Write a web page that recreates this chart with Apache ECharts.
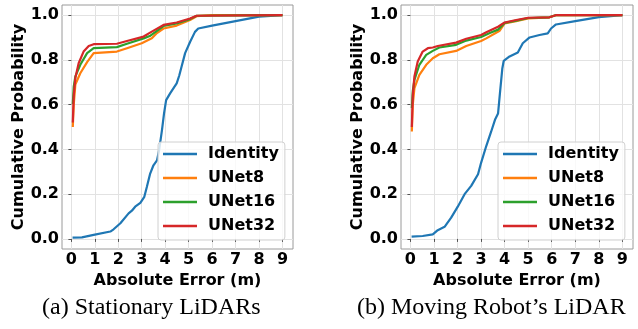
<!DOCTYPE html>
<html>
<head>
<meta charset="utf-8">
<script src="https://cdn.jsdelivr.net/npm/echarts@6/dist/echarts.min.js"></script>
<style>
  html, body { margin: 0; padding: 0; background: #fff; }
  #chart { width: 638px; height: 329px; }
</style>
</head>
<body>
<div id="chart"></div>
<script>
// series names and tick labels
var seriesNames = ['Identity', 'UNet8', 'UNet16', 'UNet32'];
var xTicks = [0, 1, 2, 3, 4, 5, 6, 7, 8, 9];
var yTicks = [0, 0.2, 0.4, 0.6, 0.8, 1.0];

// (a) stationary lidars, [error, cdf]
var statIdentity = [[0.05,0.006],[0.45,0.007],[0.95,0.018],[1.66,0.033],[1.8,0.043],[2.09,0.07],[2.44,0.114],[2.58,0.126],[2.72,0.144],[2.94,0.161],[3.11,0.188],[3.22,0.233],[3.36,0.292],[3.5,0.329],[3.65,0.351],[3.74,0.396],[3.86,0.484],[3.95,0.56],[4.04,0.62],[4.21,0.65],[4.49,0.695],[4.6,0.73],[4.7,0.77],[4.85,0.83],[5.06,0.88],[5.27,0.925],[5.41,0.94],[6.0,0.953],[7.0,0.973],[8.0,0.993],[9.0,1.0]];
var statUNet8 = [[0.06,0.50],[0.1,0.6],[0.17,0.69],[0.38,0.74],[0.67,0.79],[0.95,0.83],[1.94,0.837],[2.37,0.852],[3.0,0.874],[3.43,0.896],[3.65,0.92],[3.93,0.94],[4.49,0.953],[5.06,0.978],[5.34,0.995],[6.0,1.0],[9.0,1.0]];
var statUNet16 = [[0.06,0.603],[0.1,0.68],[0.17,0.726],[0.38,0.778],[0.67,0.83],[0.95,0.852],[1.94,0.857],[2.37,0.872],[3.08,0.896],[3.37,0.908],[3.93,0.951],[4.49,0.963],[5.06,0.982],[5.34,0.997],[9.0,1.0]];
var statUNet32 = [[0.06,0.52],[0.1,0.64],[0.17,0.72],[0.31,0.785],[0.52,0.837],[0.74,0.862],[0.95,0.87],[1.94,0.872],[2.37,0.884],[3.08,0.904],[3.43,0.926],[3.93,0.956],[4.49,0.967],[5.06,0.985],[5.34,0.997],[9.0,1.0]];

// (b) moving robot's lidar
var movIdentity = [[0.05,0.01],[0.52,0.013],[0.95,0.02],[1.16,0.039],[1.45,0.054],[1.73,0.095],[2.01,0.144],[2.3,0.2],[2.58,0.237],[2.87,0.289],[3.0,0.34],[3.22,0.415],[3.43,0.48],[3.6,0.535],[3.72,0.56],[3.8,0.65],[3.9,0.76],[3.96,0.795],[4.21,0.815],[4.56,0.833],[4.77,0.874],[5.06,0.9],[5.48,0.911],[5.83,0.918],[5.97,0.94],[6.18,0.958],[7.0,0.973],[8.0,0.991],[9.0,1.0]];
var movUNet8 = [[0.06,0.48],[0.1,0.6],[0.17,0.674],[0.38,0.733],[0.67,0.778],[0.95,0.807],[1.23,0.825],[1.94,0.84],[2.37,0.862],[3.0,0.884],[3.22,0.896],[3.79,0.93],[4.0,0.963],[4.49,0.973],[5.0,0.985],[5.9,0.99],[6.2,1.0],[9.0,1.0]];
var movUNet16 = [[0.06,0.585],[0.1,0.66],[0.17,0.71],[0.38,0.778],[0.67,0.822],[0.95,0.84],[1.23,0.855],[1.94,0.867],[2.37,0.886],[3.0,0.902],[3.37,0.92],[3.72,0.935],[4.0,0.965],[4.49,0.975],[5.0,0.987],[5.9,0.99],[6.2,1.0],[9.0,1.0]];
var movUNet32 = [[0.06,0.50],[0.1,0.64],[0.17,0.726],[0.31,0.793],[0.52,0.837],[0.74,0.852],[0.95,0.855],[1.16,0.862],[1.94,0.877],[2.37,0.894],[3.0,0.911],[3.22,0.923],[3.72,0.948],[4.0,0.967],[4.49,0.978],[5.0,0.988],[5.9,0.99],[6.2,1.0],[9.0,1.0]];

var colors = ['#1f77b4', '#ff7f0e', '#2ca02c', '#d62728'];
var panels = [
  [statIdentity, statUNet8, statUNet16, statUNet32],
  [movIdentity, movUNet8, movUNet16, movUNet32]
];

var bold = { fontFamily: 'DejaVu Sans', fontWeight: 'bold', fontSize: 16, color: '#000' };

function xAx(i) {
  return {
    type: 'value', gridIndex: i, min: -0.4, max: 9.45,
    name: 'Absolute Error (m)', nameLocation: 'middle', nameGap: 13,
    nameTextStyle: bold,
    axisLine: { show: false },
    axisTick: { show: true, length: 3, customValues: xTicks, lineStyle: { color: '#555' } },
    axisLabel: { customValues: xTicks, margin: 3, fontFamily: 'DejaVu Sans', fontWeight: 'bold', fontSize: 16, color: '#000' },
    splitLine: { show: true, lineStyle: { color: '#e2e2e2', width: 1 } }
  };
}
function yAx(i) {
  return {
    type: 'value', gridIndex: i, min: -0.045, max: 1.045,
    name: 'Cumulative Probability', nameLocation: 'middle', nameGap: 29, nameRotate: 90,
    nameTextStyle: bold,
    axisLine: { show: false },
    axisTick: { show: true, length: 3, customValues: yTicks, lineStyle: { color: '#555' } },
    axisLabel: { customValues: yTicks, margin: 3, fontFamily: 'DejaVu Sans', fontWeight: 'bold', fontSize: 16, color: '#000',
      formatter: function (v) { return v.toFixed(1); } },
    splitLine: { show: true, lineStyle: { color: '#e2e2e2', width: 1 } }
  };
}

var series = [];
panels.forEach(function (p, gi) {
  p.forEach(function (d, si) {
    series.push({
      type: 'line', name: seriesNames[si], xAxisIndex: gi, yAxisIndex: gi,
      data: d, showSymbol: false, symbol: 'none', animation: false,
      lineStyle: { width: 2.2, color: colors[si] }, itemStyle: { color: colors[si] }
    });
  });
});

function legend(left) {
  return {
    orient: 'vertical', left: left, top: 142, data: seriesNames,
    icon: 'rect', itemWidth: 34, itemHeight: 2.5, itemGap: 8, padding: [4, 6, 6, 5],
    backgroundColor: 'rgba(255,255,255,0.8)', borderColor: '#d0d0d0', borderWidth: 1, borderRadius: 3,
    textStyle: { fontFamily: 'DejaVu Sans', fontWeight: 'bold', fontSize: 16, color: '#000', lineHeight: 16, padding: [0, 0, 0, 6] }
  };
}

var myChart = echarts.init(document.getElementById('chart'));
var option = {
  animation: false,
  color: colors,
  grid: [
    { left: 62, top: 5, width: 231, height: 244, show: true, borderColor: '#9a9a9a', borderWidth: 1 },
    { left: 401, top: 5, width: 232, height: 244, show: true, borderColor: '#9a9a9a', borderWidth: 1 }
  ],
  xAxis: [xAx(0), xAx(1)],
  yAxis: [yAx(0), yAx(1)],
  legend: [legend(158), legend(498)],
  graphic: [
    { type: 'text', left: 42, top: 296, style: { text: '(a) Stationary LiDARs', font: '24px "Liberation Serif"', fill: '#000' } },
    { type: 'text', left: 357, top: 296, style: { text: '(b) Moving Robot\u2019s LiDAR', font: '24px "Liberation Serif"', fill: '#000' } }
  ],
  series: series
};
myChart.setOption(option);
window.addEventListener('resize', function () {
  myChart.resize();
});
</script>
</body>
</html>
